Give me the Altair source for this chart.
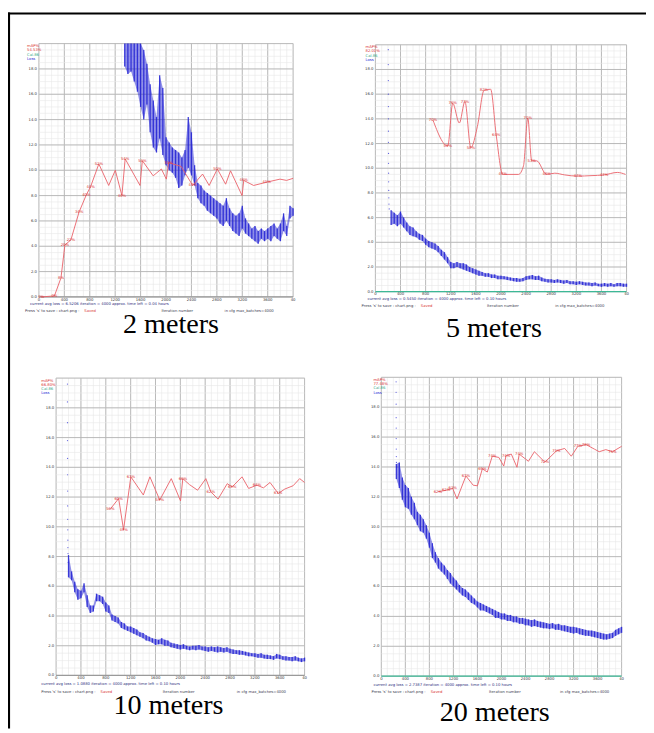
import altair as alt
import pandas as pd

# ---------------- data ----------------
CAPTIONS = ["2 meters", "5 meters", "10 meters", "20 meters"]

X_MAJOR = [0, 400, 800, 1200, 1600, 2000, 2400, 2800, 3200, 3600, 4000]
X_MINOR = list(range(0, 4001, 100))
Y_MAJOR = [0, 2, 4, 6, 8, 10, 12, 14, 16, 18, 20]
Y_MINOR = [i * 0.5 for i in range(41)]
X_TICK_LABELS = ["0", "400", "800", "1200", "1600", "2000", "2400", "2800", "3200", "3600", "40"]
Y_TICK_VALUES = [0, 2, 4, 6, 8, 10, 12, 14, 16, 18]
Y_TICK_LABELS = ["0.0", "2.0", "4.0", "6.0", "8.0", "10.0", "12.0", "14.0", "16.0", "18.0"]

# loss band (low / high of the scatter) every 50 iterations
P1_LOSS_START = 1350
P1_LOSS_LO = [18.2, 17.6, 17.8, 17.0, 16.2, 15.0, 14.0, 15.2, 13.0, 11.8,
              11.4, 12.5, 11.2, 10.4, 10.0, 9.8, 9.4, 8.6, 8.8, 9.6,
              10.2, 9.6, 8.8, 7.8, 7.4, 7.2, 6.8, 6.6, 6.4, 6.2,
              5.8, 5.6, 6.0, 5.6, 5.2, 5.0, 4.8, 5.4, 5.0, 4.8,
              4.6, 4.4, 4.2, 4.6, 4.4, 4.6, 4.4, 4.8, 4.6, 4.4,
              5.2, 4.8, 6.2, 6.4]
P1_LOSS_HI = [21, 21, 21, 21, 21, 20.5, 19.5, 18.4, 16.8, 15.5,
              14.2, 17.5, 16.5, 12.6, 12.2, 11.8, 11.6, 11.4, 11.0, 11.6,
              14.2, 13.0, 10.4, 9.0, 8.8, 8.4, 8.2, 8.0, 7.8, 7.6,
              7.4, 7.2, 7.8, 7.0, 6.6, 6.4, 6.6, 7.2, 6.2, 5.8,
              5.4, 5.6, 5.2, 5.4, 5.2, 5.4, 5.6, 5.8, 5.4, 5.8,
              6.6, 5.6, 7.2, 7.0]

P2_LOSS_START = 250
P2_LOSS_LO = [5.4, 5.5, 5.3, 5.5, 5.2, 4.9, 4.6, 4.5, 4.4, 4.2,
              4.1, 3.8, 3.6, 3.5, 3.4, 3.2, 2.9, 2.6, 2.3, 1.9,
              1.9, 2.0, 1.9, 1.8, 1.7, 1.6, 1.5, 1.4, 1.3, 1.3,
              1.2, 1.2, 1.1, 1.1, 1.0, 1.0, 1.0, 0.95, 0.9, 0.85,
              0.8, 0.8, 0.85, 0.95, 1.0, 1.0, 0.95, 0.95, 0.85, 0.8,
              0.75, 0.75, 0.7, 0.75, 0.7, 0.65, 0.7, 0.6, 0.6, 0.55,
              0.6, 0.55, 0.5, 0.5, 0.45, 0.5, 0.45, 0.4, 0.45, 0.4,
              0.45, 0.4, 0.45, 0.45, 0.4, 0.4]
P2_LOSS_HI = [6.6, 6.4, 6.2, 6.5, 6.0, 5.6, 5.3, 5.2, 4.9, 4.7,
              4.6, 4.3, 4.1, 4.0, 3.9, 3.7, 3.4, 3.2, 2.8, 2.4,
              2.3, 2.4, 2.3, 2.3, 2.2, 2.0, 1.9, 1.8, 1.7, 1.6,
              1.5, 1.5, 1.4, 1.4, 1.3, 1.3, 1.25, 1.2, 1.15, 1.1,
              1.1, 1.05, 1.1, 1.25, 1.3, 1.35, 1.25, 1.3, 1.15, 1.05,
              1.0, 1.0, 0.95, 1.0, 0.95, 0.9, 0.95, 0.85, 0.85, 0.8,
              0.85, 0.8, 0.75, 0.75, 0.7, 0.75, 0.65, 0.65, 0.7, 0.65,
              0.7, 0.6, 0.7, 0.7, 0.65, 0.65]

P3_LOSS_START = 200
P3_LOSS_LO = [6.6, 6.4, 5.6, 5.1, 5.2, 5.6, 4.6, 4.2, 4.3, 5.0,
              5.0, 4.8, 4.3, 4.2, 3.7, 3.6, 3.5, 3.2, 3.1, 3.0,
              2.9, 2.8, 2.7, 2.6, 2.5, 2.35, 2.3, 2.2, 2.05, 2.1,
              2.1, 2.0, 2.0, 1.9, 1.85, 1.8, 1.75, 1.8, 1.75, 1.7,
              1.75, 1.7, 1.75, 1.7, 1.65, 1.6, 1.65, 1.6, 1.55, 1.6,
              1.55, 1.6, 1.5, 1.45, 1.45, 1.4, 1.4, 1.35, 1.3, 1.3,
              1.25, 1.2, 1.2, 1.15, 1.1, 1.1, 1.05, 1.15, 1.1, 1.05,
              1.0, 1.0, 0.95, 1.0, 0.95, 0.9, 0.95]
P3_LOSS_HI = [8.1, 7.0, 6.3, 5.8, 5.7, 6.2, 5.4, 4.7, 4.7, 5.5,
              5.4, 5.3, 4.9, 4.7, 4.1, 4.0, 3.9, 3.6, 3.5, 3.3,
              3.3, 3.2, 3.1, 2.9, 2.85, 2.7, 2.6, 2.5, 2.45, 2.4,
              2.5, 2.4, 2.35, 2.2, 2.15, 2.1, 2.05, 2.1, 2.0, 1.95,
              2.0, 2.0, 2.05, 1.95, 1.95, 1.9, 1.95, 1.9, 1.95, 1.9,
              1.85, 1.9, 1.8, 1.75, 1.7, 1.7, 1.65, 1.6, 1.55, 1.5,
              1.5, 1.45, 1.5, 1.4, 1.4, 1.35, 1.3, 1.45, 1.4, 1.3,
              1.3, 1.25, 1.25, 1.3, 1.2, 1.15, 1.2]

P4_LOSS_START = 250
P4_LOSS_LO = [13.2, 12.6, 11.8, 11.3, 11.2, 10.8, 10.5, 10.1, 9.7, 9.6,
              9.2, 8.6, 7.9, 7.6, 7.2, 7.0, 6.8, 6.5, 6.2, 6.0,
              5.8, 5.6, 5.4, 5.3, 5.1, 4.9, 4.8, 4.6, 4.4, 4.4,
              4.3, 4.2, 4.1, 3.9, 3.9, 3.8, 3.8, 3.7, 3.7, 3.6,
              3.6, 3.5, 3.5, 3.4, 3.4, 3.3, 3.35, 3.3, 3.25, 3.2,
              3.2, 3.15, 3.2, 3.1, 3.1, 3.05, 3.0, 2.95, 2.9, 2.85,
              2.9, 2.8, 2.75, 2.7, 2.7, 2.65, 2.6, 2.55, 2.5, 2.45,
              2.45, 2.5, 2.55, 2.7, 2.8, 2.9]
P4_LOSS_HI = [14.2, 14.3, 13.3, 12.8, 12.6, 12.0, 11.6, 11.0, 10.8, 10.5,
              10.1, 9.6, 8.9, 8.3, 7.9, 7.6, 7.4, 7.1, 6.9, 6.6,
              6.4, 6.1, 5.9, 5.8, 5.6, 5.4, 5.2, 5.0, 4.9, 4.8,
              4.7, 4.6, 4.5, 4.4, 4.3, 4.2, 4.2, 4.1, 4.1, 4.0,
              4.0, 3.9, 3.9, 3.85, 3.8, 3.75, 3.8, 3.7, 3.65, 3.6,
              3.55, 3.5, 3.55, 3.45, 3.5, 3.4, 3.4, 3.35, 3.3, 3.3,
              3.25, 3.2, 3.15, 3.1, 3.05, 3.05, 3.0, 2.95, 2.9, 2.85,
              2.8, 2.85, 2.9, 3.1, 3.2, 3.3]

# initial loss spike (dotted, nearly vertical)
P2_SPIKE_ITER = [205, 205, 206, 206, 207, 207, 208, 208, 209, 209, 210, 211, 212, 214, 216, 220]
P2_SPIKE_LOSS = [19.6, 18.4, 17.1, 16.0, 15.0, 14.0, 13.0, 12.1, 11.2, 10.4, 9.6, 8.9, 8.2, 7.6, 7.1, 6.7]
P3_SPIKE_ITER = [183, 183, 184, 184, 185, 185, 186, 186, 187, 188, 189, 190, 192, 195]
P3_SPIKE_LOSS = [19.6, 18.4, 17.0, 15.8, 14.6, 13.5, 12.4, 11.4, 10.5, 9.8, 9.1, 8.6, 8.2, 7.6]
P4_SPIKE_ITER = [246, 246, 247, 247, 248, 248, 249, 250, 252, 255]
P4_SPIKE_LOSS = [19.7, 19.0, 18.2, 17.3, 16.6, 15.9, 15.2, 14.7, 14.3, 14.0]

# mAP (%) curve
P1_MAP_ITER = [36, 244, 347, 409, 503, 632, 746, 813, 943, 1098, 1202, 1306, 1357, 1591, 1627, 1798,
               1927, 2005, 2041, 2238, 2420, 2575, 2679, 2808, 2938, 3015, 3197, 3223, 3378, 3585,
               3793, 3896, 4000]
P1_MAP = [0, 0.4, 7.5, 20.5, 22.5, 33.5, 40.3, 43.5, 52.5, 44, 50, 40, 54.5, 44, 53.8, 47.8,
          50.5, 46.5, 53, 51.5, 44, 48.5, 44, 50.5, 44.5, 49.8, 40, 46, 44, 45.3,
          46.5, 46, 46.8]
P1_MAP_LABELED = [36, 244, 347, 409, 503, 632, 746, 813, 943, 1306, 1357, 1627, 2041, 2420, 2808, 3223, 3585]

P2_MAP_ITER = [917, 1153, 1232, 1337, 1426, 1520, 1625, 1730, 1835, 1924, 2029, 2280, 2359, 2427,
               2490, 2569, 2726, 2857, 3014, 3224, 3434, 3643, 3853, 3984]
P2_MAP = [69.5, 59, 76.3, 68.3, 77, 58.3, 67, 81.5, 82, 63.5, 47.5, 47.5, 51, 70.3,
          53, 53, 47.5, 48, 47.3, 46.8, 47, 47.3, 48.3, 47.5]
P2_MAP_LABELED = [917, 1153, 1232, 1426, 1520, 1730, 1924, 2029, 2427, 2490, 2726, 3224, 3643]

P3_MAP_ITER = [874, 1007, 1086, 1203, 1404, 1510, 1669, 1854, 2003, 2040, 2146, 2278, 2411, 2490,
               2607, 2755, 2834, 2993, 3099, 3232, 3338, 3444, 3576, 3682, 3815, 3921, 4000]
P3_MAP = [56, 59.5, 49, 66.8, 60.7, 66.8, 59, 66.2, 58.7, 66.2, 64.2, 62.3, 66.2, 61.8,
          59.3, 64.5, 63.4, 66.8, 62.9, 64, 63.1, 64.9, 61.2, 62.7, 63.8, 66.2, 64.9]
P3_MAP_LABELED = [874, 1007, 1086, 1203, 1669, 2040, 2490, 2834, 3232, 3576]

P4_MAP_ITER = [942, 1079, 1189, 1260, 1408, 1529, 1600, 1682, 1764, 1847, 1956, 2038, 2077, 2164,
               2258, 2296, 2449, 2548, 2723, 2915, 3052, 3162, 3271, 3408, 3545, 3627, 3737, 3847, 4000]
P4_MAP = [61.7, 62.2, 62.8, 59.3, 67, 63.9, 63.7, 69.4, 68.3, 73.6, 73.2, 70.3, 73.8, 74.3,
          69.9, 74.3, 71.9, 75.1, 71.6, 75.4, 76.2, 73.6, 76.9, 77.5, 76, 75.1, 75.8, 75.1, 76.9]
P4_MAP_LABELED = [942, 1079, 1189, 1408, 1682, 1847, 2077, 2296, 2723, 2915, 3271, 3408, 3847]

AVG_LOSS = ["6.5206", "0.5450", "1.0880", "2.7387"]
TIME_LEFT = ["0.04", "0.10", "0.10", "0.10"]
BEST_MAP = ["54.53%", "82.01%", "66.80%", "77.48%"]

# ---------------- layout (pixels inside the view) ----------------
W, H = 646, 725
GEOM = [
    dict(x0=31.3, x1=288.7, yb=288.0, yt=31.5, cap=(165, 325), leg=-12, l1=(-9, 6.8), l2=(-14, 14),
         itn=124, cfg=188, base="#9a9a9a", interp="linear"),
    dict(x0=372.0, x1=626.3, yb=282.7, yt=32.7, cap=(492, 328.7), leg=-10, l1=(-8, 7), l2=(-14, 14.2),
         itn=113, cfg=182, base="#3db896", interp="monotone"),
    dict(x0=48.7, x1=300.3, yb=671.3, yt=370.2, cap=(162.5, 710), leg=-15, l1=(-15, 8.5), l2=(-15, 16.5),
         itn=108, cfg=183, base="#9a9a9a", interp="linear"),
    dict(x0=378.0, x1=621.3, yb=672.0, yt=369.4, cap=(492.8, 717), leg=-8, l1=(-8, 8.5), l2=(-10, 16.5),
         itn=109, cfg=181, base="#3db896", interp="linear"),
]

BLUE = "#2222d4"
RED = "#ea6068"
RED_TXT = "#d83030"
GREEN = "#2fa77f"
GRID_MINOR = "#e8e8e8"
GRID_MAJOR = "#ababab"
TXT = "#3a3a4e"
SMALL = 3.8

PANEL_DATA = [
    (P1_LOSS_START, P1_LOSS_LO, P1_LOSS_HI, [], [], P1_MAP_ITER, P1_MAP, P1_MAP_LABELED),
    (P2_LOSS_START, P2_LOSS_LO, P2_LOSS_HI, P2_SPIKE_ITER, P2_SPIKE_LOSS, P2_MAP_ITER, P2_MAP, P2_MAP_LABELED),
    (P3_LOSS_START, P3_LOSS_LO, P3_LOSS_HI, P3_SPIKE_ITER, P3_SPIKE_LOSS, P3_MAP_ITER, P3_MAP, P3_MAP_LABELED),
    (P4_LOSS_START, P4_LOSS_LO, P4_LOSS_HI, P4_SPIKE_ITER, P4_SPIKE_LOSS, P4_MAP_ITER, P4_MAP, P4_MAP_LABELED),
]


def sx(g):
    return alt.Scale(domain=[0, 4000], range=[g["x0"], g["x1"]], nice=False, zero=False)


def sy(g, top=20):
    return alt.Scale(domain=[0, top], range=[g["yb"], g["yt"]], nice=False, zero=False, clamp=True)


def X(field, g):
    return alt.X(field, type="quantitative", scale=sx(g), axis=None)


def Y(field, g, top=20):
    return alt.Y(field, type="quantitative", scale=sy(g, top), axis=None)


layers = []

for k, g in enumerate(GEOM):
    start, lo, hi, sp_i, sp_v, m_i, m_v, m_lab = PANEL_DATA[k]

    # grid
    for vals, col, sw in ((X_MINOR, GRID_MINOR, 0.6), (X_MAJOR, GRID_MAJOR, 0.8)):
        layers.append(
            alt.Chart(pd.DataFrame({"g": vals})).mark_rule(color=col, strokeWidth=sw).encode(
                x=X("g", g),
                y=alt.YDatum(0, type="quantitative", scale=sy(g), axis=None),
                y2=alt.Y2Datum(20),
            )
        )
    for vals, col, sw in ((Y_MINOR, GRID_MINOR, 0.6), (Y_MAJOR, GRID_MAJOR, 0.8)):
        layers.append(
            alt.Chart(pd.DataFrame({"g": vals})).mark_rule(color=col, strokeWidth=sw).encode(
                y=Y("g", g),
                x=alt.XDatum(0, type="quantitative", scale=sx(g), axis=None),
                x2=alt.X2Datum(4000),
            )
        )
    # baseline
    layers.append(
        alt.Chart(pd.DataFrame({"g": [0]})).mark_rule(color=g["base"], strokeWidth=1.3).encode(
            y=Y("g", g),
            x=alt.XDatum(0, type="quantitative", scale=sx(g), axis=None),
            x2=alt.X2Datum(4000),
        )
    )

    # tick labels
    layers.append(
        alt.Chart(pd.DataFrame({"v": Y_TICK_VALUES, "t": Y_TICK_LABELS})).mark_text(
            align="right", baseline="middle", fontSize=SMALL, color="#333333", font="DejaVu Sans"
        ).encode(x=alt.value(g["x0"] - 2), y=Y("v", g), text="t:N")
    )
    layers.append(
        alt.Chart(pd.DataFrame({"v": X_MAJOR, "t": X_TICK_LABELS})).mark_text(
            align="center", baseline="top", fontSize=SMALL, color="#333333", font="DejaVu Sans"
        ).encode(x=X("v", g), y=alt.value(g["yb"] + 0.8), text="t:N")
    )

    # loss scatter: a light band between low and high plus vertical streaks
    iters = list(range(start, start + 50 * len(lo), 50))
    ldf_loss = pd.DataFrame({"i": iters, "lo": lo, "hi": hi})
    layers.append(
        alt.Chart(ldf_loss).mark_area(color=BLUE, opacity=0.5).encode(
            x=X("i", g), y=Y("lo", g), y2="hi:Q"
        )
    )
    layers.append(
        alt.Chart(ldf_loss).mark_rule(color=BLUE, strokeWidth=1.3, opacity=0.85).encode(
            x=X("i", g), y=Y("lo", g), y2="hi:Q"
        )
    )
    if sp_i:
        layers.append(
            alt.Chart(pd.DataFrame({"i": sp_i, "v": sp_v})).mark_circle(
                color=BLUE, size=1.6, opacity=0.7
            ).encode(x=X("i", g), y=Y("v", g))
        )

    # mAP line and labels
    mdf = pd.DataFrame({"i": m_i, "m": m_v})
    layers.append(
        alt.Chart(mdf).mark_line(color=RED, strokeWidth=1.0, opacity=0.9, interpolate=g["interp"]).encode(
            x=X("i", g), y=Y("m", g, 100)
        )
    )
    ldf = mdf[mdf["i"].isin(m_lab)].copy()
    ldf["t"] = [f"{round(v)}%" for v in ldf["m"]]
    layers.append(
        alt.Chart(ldf).mark_text(
            color=RED_TXT, fontSize=SMALL, baseline="middle", align="center", font="DejaVu Sans"
        ).encode(x=X("i", g), y=Y("m", g, 100), text="t:N")
    )

    # top-left legend
    leg = [("mAP%", RED_TXT), (BEST_MAP[k], RED_TXT), ("Cal.86", GREEN), ("Loss", BLUE)]
    for j, (txt, col) in enumerate(leg):
        layers.append(
            alt.Chart(pd.DataFrame({"t": [txt]})).mark_text(
                align="left", baseline="middle", fontSize=SMALL, color=col, font="DejaVu Sans"
            ).encode(x=alt.value(g["x0"] + g["leg"]), y=alt.value(g["yt"] + [2.5, 6.8, 11.3, 15.6][j]),
                     text="t:N")
        )

    # bottom status lines
    line1 = f"current avg loss = {AVG_LOSS[k]}    iteration = 4000    approx. time left = {TIME_LEFT[k]} hours"
    texts = [
        (line1, g["l1"][0], g["l1"][1], "#2b2b7a"),
        ("Press 's' to save : chart.png - ", g["l2"][0], g["l2"][1], TXT),
        ("Saved", g["l2"][0] + 60, g["l2"][1], RED_TXT),
        ("Iteration number", g["itn"], g["l2"][1], TXT),
        ("in cfg max_batches=4000", g["cfg"], g["l2"][1], TXT),
    ]
    for txt, dx, dy, col in texts:
        layers.append(
            alt.Chart(pd.DataFrame({"t": [txt]})).mark_text(
                align="left", baseline="middle", fontSize=SMALL, color=col, font="DejaVu Sans"
            ).encode(x=alt.value(g["x0"] + dx), y=alt.value(g["yb"] + dy), text="t:N")
        )

    # caption
    layers.append(
        alt.Chart(pd.DataFrame({"t": [CAPTIONS[k]]})).mark_text(
            align="center", baseline="alphabetic", fontSize=28.5, color="#000000",
            font="Liberation Serif"
        ).encode(x=alt.value(g["cap"][0]), y=alt.value(g["cap"][1]), text="t:N")
    )

# outer frame (top and left edges visible in the reference)
layers.append(
    alt.Chart(pd.DataFrame({"a": [0]})).mark_rule(color="#000000", strokeWidth=2.2).encode(
        x=alt.value(1), y=alt.value(0), y2=alt.value(H)
    )
)
layers.append(
    alt.Chart(pd.DataFrame({"a": [0]})).mark_rule(color="#000000", strokeWidth=2.2).encode(
        x=alt.value(0), x2=alt.value(W), y=alt.value(1)
    )
)

chart = (
    alt.layer(*layers)
    .resolve_scale(x="independent", y="independent")
    .properties(width=W, height=H, padding=0, autosize=alt.AutoSizeParams(type="none"))
    .configure_view(stroke=None)
)

chart.save("out.html", embed_options={"renderer": "svg", "actions": False})
